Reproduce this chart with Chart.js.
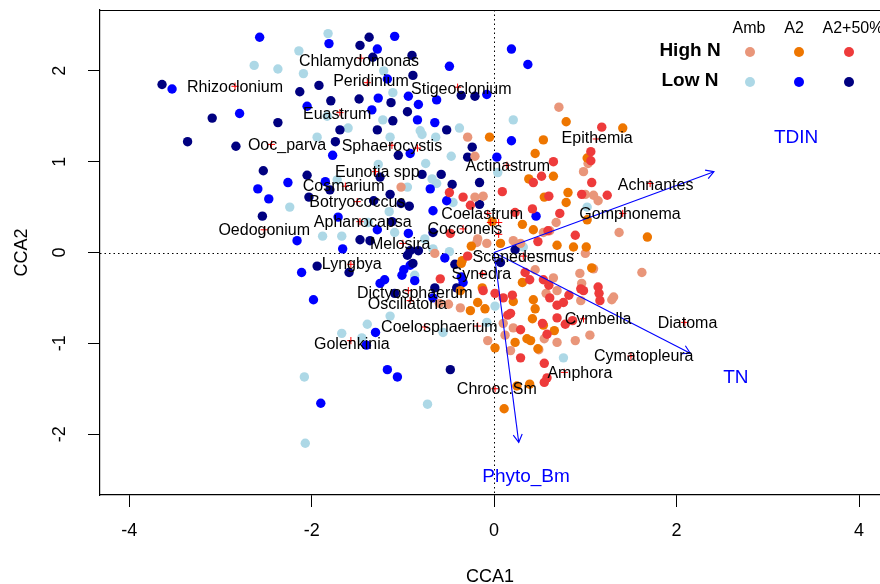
<!DOCTYPE html>
<html><head><meta charset="utf-8">
<script src="https://cdn.jsdelivr.net/npm/chart.js@4.4.0/dist/chart.umd.min.js"></script>
<style>html,body{margin:0;padding:0;background:#fff;overflow:hidden}#wrap{width:880px;height:584px;position:relative}canvas{display:block}</style>
</head><body><div id="wrap"><canvas id="c"></canvas></div>
<script>
const xTicks=[-4,-2,0,2,4];
const yTicks=[-2,-1,0,1,2];
const treatments=['Amb','A2','A2+50%'];
const nLevels=['High N','Low N'];

const ambLow=[[-1.82,2.41],[-2.14,2.22],[-2.63,2.06],[-2.37,2.02],[-2.09,1.97],[-1.21,2.00],[-1.11,1.76],[-1.83,1.50],[-1.60,1.37],[-1.22,1.46],[-1.94,1.27],[-1.14,1.27],[-1.27,0.97],[-0.81,1.34],[-0.79,1.30],[-0.64,1.27],[-0.38,1.37],[-0.47,1.06],[-0.75,0.98],[-0.63,0.76],[-0.95,0.72],[-1.72,0.80],[-2.24,0.50],[-1.15,0.45],[-0.76,0.15],[-1.09,0.22],[-1.67,0.18],[-1.88,0.18],[-0.49,0.01],[-0.45,0.55],[0.21,1.46],[0.04,0.88],[1.02,0.50],[0.32,0.06],[-1.38,0.33],[-0.68,0.81],[-0.87,-0.25],[0.01,-0.59],[0.76,-1.16],[-1.14,-0.70],[-0.56,-0.88],[-0.67,0.04],[-1.39,-0.79],[-1.67,-0.89],[-1.45,-0.94],[-0.08,-0.77],[-2.08,-1.37],[-0.73,-1.67],[-2.07,-2.10]];
const a2Low=[[-2.57,2.37],[-1.81,2.30],[-3.53,1.80],[-2.79,1.53],[-2.05,1.61],[-1.28,2.24],[-1.09,2.38],[-1.17,1.91],[-1.27,1.70],[-1.34,1.57],[-1.77,1.07],[-0.49,2.05],[-0.94,1.72],[-0.83,1.63],[-0.84,1.46],[-0.65,1.43],[-0.92,1.09],[-1.85,0.78],[-0.67,0.46],[-0.52,0.57],[-1.28,0.25],[-0.94,0.21],[-1.66,0.04],[-2.16,0.13],[-0.08,1.74],[0.19,2.24],[0.37,2.07],[-0.63,1.68],[0.19,1.23],[0.03,1.05],[0.46,0.40],[-2.59,0.70],[-2.47,0.59],[-2.26,0.77],[-1.71,0.39],[-0.70,0.70],[-2.11,-0.22],[-1.98,-0.52],[-1.25,-0.34],[-1.01,-0.25],[-0.92,-0.14],[-0.67,-0.50],[-0.54,-0.06],[-0.34,-0.33],[-1.30,-0.88],[-1.40,-1.02],[-1.17,-1.29],[-1.06,-1.37],[-1.90,-1.66],[-0.36,-0.27],[-0.87,-0.31],[-1.20,-0.30],[-0.99,-0.19]];
const a2p50Low=[[-3.64,1.85],[-3.36,1.22],[-3.09,1.48],[-2.83,1.17],[-2.37,1.43],[-2.13,1.77],[-1.92,1.84],[-1.79,1.67],[-1.48,1.69],[-1.47,2.28],[-1.37,2.37],[-1.33,2.15],[-1.13,1.65],[-1.11,1.45],[-1.69,1.35],[-1.28,1.35],[-1.74,1.22],[-1.05,1.07],[-2.53,0.90],[-0.90,2.17],[-0.89,1.95],[-0.36,1.73],[-0.21,1.72],[-0.95,1.55],[-0.52,1.35],[-0.24,1.16],[-0.29,1.05],[-0.79,0.86],[-0.58,0.86],[-0.16,0.77],[-0.46,0.75],[-0.16,0.53],[-2.05,0.85],[-1.80,0.69],[-2.03,0.61],[-1.14,0.64],[-1.02,0.54],[-0.93,0.51],[-1.32,0.57],[-1.47,0.14],[-1.12,0.34],[-0.92,0.02],[-2.54,0.40],[-1.94,-0.15],[-1.59,-0.22],[-1.36,0.13],[-1.25,0.83],[-0.83,0.02],[-0.67,0.22],[-0.41,-0.39],[-0.95,-0.03],[-0.43,-0.13],[0.23,0.03],[-0.65,-0.39],[-0.48,-1.29],[0.07,-0.11],[-0.89,-0.12],[-1.09,-0.45]];
const ambHigh=[[-1.02,0.72],[-0.29,1.27],[-0.21,1.06],[-0.21,0.61],[-0.12,0.62],[-0.19,0.11],[-0.08,0.10],[0.71,1.60],[1.03,0.98],[1.00,0.64],[1.09,0.63],[1.14,0.57],[0.68,0.33],[0.61,0.24],[0.54,0.22],[1.37,0.22],[1.00,-0.01],[1.62,-0.22],[1.09,-0.18],[0.21,0.13],[0.29,0.10],[0.45,-0.19],[0.57,-0.45],[0.69,-0.42],[0.95,-0.53],[1.29,-0.52],[1.05,-0.91],[0.89,-0.97],[0.69,-0.99],[0.12,-0.91],[0.21,-0.83],[0.18,-1.08],[-0.07,-0.97],[-0.50,-0.57],[-0.37,-0.61],[0.94,-0.23],[0.49,-1.07],[0.96,-0.34],[0.10,-0.78],[-0.65,-0.01],[-0.18,0.15],[-0.60,-0.56],[0.65,-0.28],[1.31,-0.49],[0.55,-0.95],[0.98,0.89]];
const a2High=[[-0.05,1.27],[0.79,1.44],[0.54,1.24],[0.45,1.09],[1.41,1.37],[1.02,1.04],[0.38,0.81],[0.65,0.84],[0.81,0.66],[0.79,0.55],[0.55,0.61],[0.43,0.25],[0.31,0.31],[1.02,0.36],[1.68,0.17],[0.69,0.08],[0.87,0.06],[1.01,0.06],[0.07,0.10],[1.07,-0.17],[-0.25,0.07],[-0.36,-0.12],[0.31,-0.33],[-0.26,-0.64],[-0.10,-0.62],[-0.18,-0.55],[0.21,-0.54],[0.43,-0.52],[0.45,-0.62],[0.42,-0.73],[0.54,-0.80],[0.66,-0.86],[0.23,-0.99],[0.01,-1.05],[0.36,-0.95],[0.48,-1.06],[0.39,-1.45],[0.11,-1.72],[-0.37,-0.42],[-0.13,-0.39],[-0.35,-0.09],[0.25,-1.47],[0.40,-0.97],[-0.02,0.34]];
const a2p50High=[[1.18,1.38],[1.06,1.11],[0.65,1.00],[0.52,0.84],[0.43,0.77],[1.07,0.77],[0.96,0.64],[1.24,0.63],[0.60,0.62],[0.72,0.43],[0.42,0.48],[0.23,0.44],[0.89,0.19],[0.48,0.12],[0.09,0.67],[-0.49,0.66],[-0.34,0.61],[-0.26,0.52],[-0.48,0.21],[0.34,-0.22],[0.54,-0.30],[0.60,-0.36],[0.82,-0.47],[0.95,-0.40],[1.15,-0.45],[1.16,-0.53],[0.69,-0.58],[0.69,-0.72],[0.53,-0.78],[0.58,-0.90],[0.29,-0.85],[0.15,-0.69],[0.10,-0.50],[0.01,-0.45],[-0.12,-0.42],[0.29,-1.16],[0.55,-1.22],[0.58,-1.38],[0.55,-1.43],[0.86,-0.75],[0.76,-0.55],[-0.29,-0.04],[1.06,1.01],[0.59,0.24],[-0.59,-0.29],[0.78,-0.79],[0.39,-0.30],[1.14,-0.38],[0.61,-0.50],[0.20,-0.47],[0.18,-0.67],[0.98,-0.42]];

// species scores (red crosses)
const speciesX=[-1.46,-2.84,-1.39,-0.40,-1.69,-2.44,-1.12,-0.84,-1.30,-1.63,-1.50,-1.47,-1.00,-2.52,-1.57,-0.94,-0.92,-0.76,-0.18,-1.57,0.01,0.14,-0.07,-0.34,-0.04,0.05,0.05,0.32,-0.13,1.12,1.71,1.41,0.98,2.09,1.50,0.77];
const speciesY=[2.14,1.83,1.87,1.82,1.54,1.19,1.18,1.15,0.89,0.73,0.56,0.34,0.10,0.25,-0.13,-0.42,-0.53,-0.82,-0.81,-0.97,-1.50,0.96,0.43,0.26,0.33,0.33,0.20,-0.04,-0.23,1.25,0.76,0.43,-0.73,-0.77,-1.14,-1.32];
// species labels
const labelNames=['Chlamydomonas','Rhizoclonium','Peridinium','Stigeoclonium','Euastrum','Ooc_parva','Sphaerocystis','Eunotia spp','Cosmarium','Botryococcus','Aphanocapsa','Melosira','Oedogonium','Lyngbya','Dictyosphaerum','Oscillatoria','Coelosphaerium','Golenkinia','Chrooc.Sm','Actinastrum','Coelastrum','Cocconeis','Scenedesmus','Synedra','Epithemia','Achnantes','Gomphonema','Cymbella','Diatoma','Cymatopleura','Amphora'];
const labelX=[-1.48,-2.84,-1.35,-0.36,-1.72,-2.27,-1.12,-1.28,-1.65,-1.50,-1.44,-1.03,-2.52,-1.56,-0.87,-0.95,-0.60,-1.56,0.03,0.15,-0.13,-0.32,0.32,-0.14,1.13,1.77,1.49,1.14,2.12,1.64,0.94];
const labelY=[2.11,1.83,1.89,1.81,1.53,1.19,1.18,0.89,0.74,0.56,0.34,0.10,0.25,-0.12,-0.44,-0.56,-0.82,-1.00,-1.50,0.96,0.43,0.26,-0.04,-0.23,1.26,0.75,0.43,-0.73,-0.77,-1.14,-1.32];

const envNames=['TDIN','TN','Phyto_Bm'];
const envX=[2.41,2.15,0.27];
const envY=[0.89,-1.11,-2.09];
const envLabelX=[3.31,2.65,0.35];
const envLabelY=[1.26,-1.38,-2.47];

const FONT='"Liberation Sans", Arial, Helvetica, sans-serif';
const toPts=a=>a.map(p=>({x:p[0],y:p[1]}));
const groups=[
  {label:'Amb Low N',data:ambLow,color:'#ADD8E6'},
  {label:'A2 Low N',data:a2Low,color:'#0000FF'},
  {label:'A2+50% Low N',data:a2p50Low,color:'#000080'},
  {label:'Amb High N',data:ambHigh,color:'#E9967A'},
  {label:'A2 High N',data:a2High,color:'#EE7600'},
  {label:'A2+50% High N',data:a2p50High,color:'#EE3B3B'}
];
const datasets=[];
datasets.push({label:'species',data:speciesX.map((x,i)=>({x:x,y:speciesY[i]})),pointStyle:'cross',pointRadius:3.6,borderColor:'#FF0000',backgroundColor:'#FF0000',pointBorderWidth:1,showLine:false,order:0});
envNames.forEach((n,i)=>datasets.push({label:n,data:[{x:0,y:0},{x:envX[i],y:envY[i]}],showLine:true,borderColor:'#0000FF',borderWidth:1.1,pointRadius:0,order:1,env:true}));
groups.forEach((g,i)=>datasets.push({label:g.label,data:toPts(g.data),backgroundColor:g.color,borderWidth:0,pointRadius:4.7,pointBorderWidth:0,showLine:false,order:10-i}));

const rPlugin={id:'rstyle',
  beforeDatasetsDraw(chart){
    const {ctx,chartArea:a,scales:{x,y}}=chart;
    ctx.save();
    ctx.strokeStyle='#000';ctx.lineWidth=1;ctx.setLineDash([1.5,3]);
    const x0=Math.round(x.getPixelForValue(0))+0.5,y0=Math.round(y.getPixelForValue(0))+0.5;
    ctx.beginPath();ctx.moveTo(x0,a.top);ctx.lineTo(x0,a.bottom);ctx.moveTo(a.left,y0);ctx.lineTo(a.right,y0);ctx.stroke();
    ctx.restore();
  },
  afterDatasetsDraw(chart){
    const {ctx,chartArea:a,scales:{x,y}}=chart;
    ctx.save();
    chart.data.datasets.forEach((d,i)=>{
      if(!d.env)return;
      const m=chart.getDatasetMeta(i).data;
      const p0=m[0],p1=m[1];
      const ang=Math.atan2(p1.y-p0.y,p1.x-p0.x);
      const L=9,h=Math.PI/6;
      ctx.strokeStyle='#0000FF';ctx.lineWidth=1.1;
      ctx.beginPath();
      ctx.moveTo(p1.x-L*Math.cos(ang-h),p1.y-L*Math.sin(ang-h));
      ctx.lineTo(p1.x,p1.y);
      ctx.lineTo(p1.x-L*Math.cos(ang+h),p1.y-L*Math.sin(ang+h));
      ctx.stroke();
    });
    ctx.fillStyle='#000';ctx.font='16px '+FONT;ctx.textAlign='center';ctx.textBaseline='middle';
    labelNames.forEach((n,i)=>ctx.fillText(n,x.getPixelForValue(labelX[i]),y.getPixelForValue(labelY[i])+1));
    ctx.fillStyle='#0000FF';ctx.font='19px '+FONT;
    envNames.forEach((n,i)=>ctx.fillText(n,x.getPixelForValue(envLabelX[i]),y.getPixelForValue(envLabelY[i])));
    ctx.strokeStyle='#000';ctx.lineWidth=1.2;ctx.setLineDash([]);
    ctx.beginPath();ctx.moveTo(a.left,a.top+0.5);ctx.lineTo(a.right,a.top+0.5);ctx.stroke();
    ctx.fillStyle='#000';ctx.font='18px '+FONT;
    yTicks.forEach(v=>{const py=y.getPixelForValue(v);ctx.save();ctx.translate(60,py);ctx.rotate(-Math.PI/2);ctx.fillText(String(v),0,0);ctx.restore();});
    xTicks.forEach(v=>{ctx.fillText(String(v),x.getPixelForValue(v),531);});
    const headX=[749,794,853],dotX=[750,799,849],rowY=[52,82];
    ctx.font='16px '+FONT;
    treatments.forEach((t,i)=>ctx.fillText(t,headX[i],29));
    ctx.font='bold 19px '+FONT;
    nLevels.forEach((n,j)=>ctx.fillText(n,690,rowY[j]-1));
    const cols=[[groups[3].color,groups[4].color,groups[5].color],[groups[0].color,groups[1].color,groups[2].color]];
    cols.forEach((row,j)=>row.forEach((c,i)=>{ctx.fillStyle=c;ctx.beginPath();ctx.arc(dotX[i],rowY[j],5,0,Math.PI*2);ctx.fill();}));
    ctx.restore();
  }
};

new Chart(document.getElementById('c'),{
  type:'scatter',
  data:{datasets},
  options:{
    responsive:true,maintainAspectRatio:false,animation:false,
    layout:{autoPadding:false,padding:{top:10,left:0,right:0,bottom:0}},
    plugins:{legend:{display:false},tooltip:{enabled:false}},
    scales:{
      x:{type:'linear',min:-4.32,max:4.23,
        afterBuildTicks:s=>{s.ticks=xTicks.map(v=>({value:v}));},
        afterFit:s=>{s.height=89;},
        grid:{display:true,drawOnChartArea:false,drawTicks:true,tickLength:12,tickColor:'#000',lineWidth:1},
        border:{display:true,color:'#000',width:1.2},
        ticks:{display:false},
        title:{display:true,text:'CCA1',color:'#000',font:{family:FONT,size:18,lineHeight:1},padding:{top:0,bottom:-2}}
      },
      y:{type:'linear',min:-2.67,max:2.67,
        afterBuildTicks:s=>{s.ticks=yTicks.map(v=>({value:v}));},
        afterFit:s=>{s.width=100;},
        grid:{display:true,drawOnChartArea:false,drawTicks:true,tickLength:12,tickColor:'#000',lineWidth:1},
        border:{display:true,color:'#000',width:1.2},
        ticks:{display:false},
        title:{display:true,text:'CCA2',color:'#000',font:{family:FONT,size:18,lineHeight:1},padding:{top:13,bottom:0}}
      }
    }
  },
  plugins:[rPlugin]
});
</script></body></html>
